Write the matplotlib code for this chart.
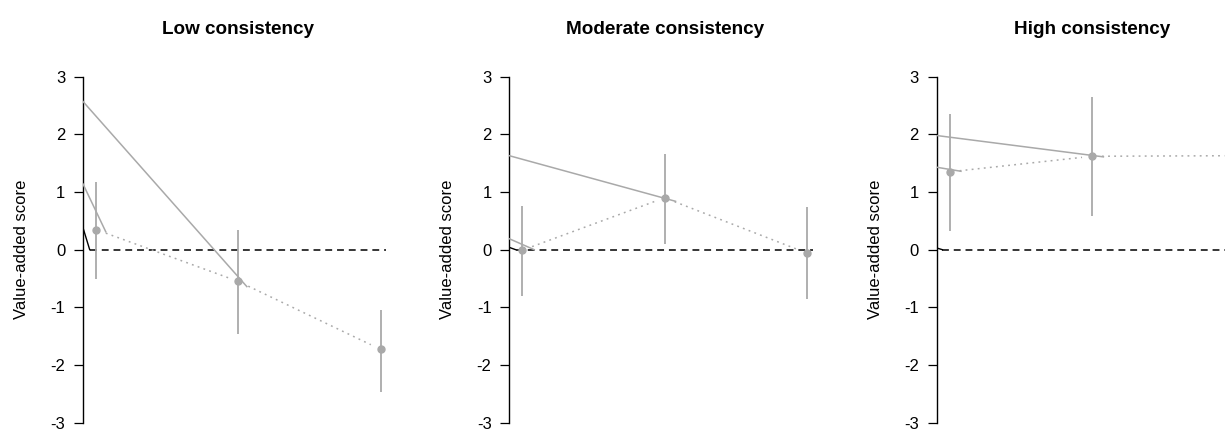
import matplotlib
matplotlib.use("Agg")
import matplotlib.pyplot as plt

plt.rcParams["font.family"] = ["Liberation Sans", "DejaVu Sans"]
plt.rcParams["axes.unicode_minus"] = False

titles = ["Low consistency", "Moderate consistency", "High consistency"]
x_pos = [1, 2, 3]

# point estimates and interval ends per panel
low_mean = [0.35, -0.55, -1.73]
low_lo = [-0.51, -1.46, -2.47]
low_hi = [1.17, 0.35, -1.05]

mod_mean = [-0.01, 0.90, -0.06]
mod_lo = [-0.80, 0.10, -0.85]
mod_hi = [0.76, 1.66, 0.74]

high_mean = [1.35, 1.62, 1.63]
high_lo = [0.33, 0.59, 0.60]
high_hi = [2.35, 2.64, 2.65]

# solid grey lines: value at the axis, end x, end value (two per panel)
solid_start = [[2.57, 1.14], [1.63, 0.19], [1.98, 1.43]]
solid_end_x = [[2.06, 1.07], [2.076, 1.085], [2.08, 1.08]]
solid_end_y = [[-0.64, 0.31], [0.84, 0.00], [1.61, 1.36]]

# short black stroke from the axis down to the reference line
black_start = [0.38, 0.04, 0.03]
black_end_x = [0.957, 0.955, 0.95]

means = [low_mean, mod_mean, high_mean]
los = [low_lo, mod_lo, high_lo]
his = [low_hi, mod_hi, high_hi]

GREY = "#a9a9a9"
X_LEFT, X_RIGHT = 0.91, 3.09
GAP = 0.07

fig = plt.figure(figsize=(12.25, 4.33), dpi=100)
lefts = [83 / 1225, 509.3 / 1225, 936.7 / 1225]
width = 310.6 / 1225
bottom = (433 - 422.7) / 433
height = 346 / 433

for i, title in enumerate(titles):
    ax = fig.add_axes([lefts[i], bottom, width, height])
    ax.set_xlim(X_LEFT, X_RIGHT)
    ax.set_ylim(-3, 3)

    # reference line at zero
    ax.plot([black_end_x[i], 3.04], [0, 0], color="black", lw=1.1,
            linestyle=(0, (4.5, 3.2)), zorder=2)
    ax.plot([X_LEFT, black_end_x[i]], [black_start[i], 0], color="black",
            lw=1.0, zorder=2)

    # solid grey lines
    for k in range(2):
        ax.plot([X_LEFT, solid_end_x[i][k]], [solid_start[i][k], solid_end_y[i][k]],
                color=GREY, lw=1.1, zorder=3)

    # dotted connections with gaps around the points
    m = means[i]
    for j in range(len(m) - 1):
        dx = x_pos[j + 1] - x_pos[j]
        dy = m[j + 1] - m[j]
        xs = [x_pos[j] + GAP * dx, x_pos[j + 1] - GAP * dx]
        ys = [m[j] + GAP * dy, m[j + 1] - GAP * dy]
        ax.plot(xs, ys, color=GREY, lw=1.1, linestyle=(0, (1.2, 2.8)), zorder=3)

    # intervals and points
    ax.vlines(x_pos, los[i], his[i], color=GREY, lw=1.3, zorder=4)
    ax.plot(x_pos, m, "o", color=GREY, ms=5, zorder=5)

    for side in ["top", "right", "bottom"]:
        ax.spines[side].set_visible(False)
    ax.spines["left"].set_linewidth(1.0)
    ax.set_xticks([])
    ax.set_yticks([-3, -2, -1, 0, 1, 2, 3])
    ax.tick_params(axis="y", length=6.3, width=0.9, pad=6.5, labelsize=12)
    ax.set_ylabel("Value-added score", fontsize=12)
    ax.yaxis.set_label_coords(-54 / 310.6, 0.5)
    ax.set_title(title, fontsize=13.6, fontweight="bold", pad=31)

fig.savefig("out.png", dpi=100)
